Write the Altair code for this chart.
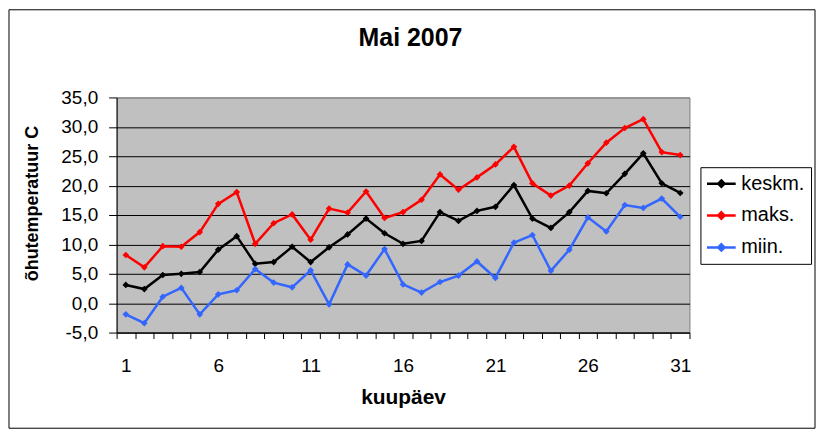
import altair as alt
import pandas as pd

days = list(range(1, 32))
keskm = [3.1, 2.4, 4.8, 5.0, 5.3, 9.1, 11.4, 6.7, 7.0, 9.6, 7.0, 9.5, 11.7, 14.4, 11.9, 10.1,
         10.6, 15.5, 14.0, 15.7, 16.4, 20.1, 14.4, 12.8, 15.5, 19.1, 18.7, 22.0, 25.5, 20.4, 18.75]
maks = [8.2, 6.1, 9.7, 9.6, 12.1, 16.9, 18.9, 10.1, 13.6, 15.1, 10.8, 16.1, 15.4, 19.0, 14.5, 15.5,
        17.6, 21.9, 19.3, 21.4, 23.6, 26.6, 20.4, 18.3, 20.0, 23.8, 27.3, 29.8, 31.3, 25.7, 25.2]
miin = [-1.9, -3.4, 1.1, 2.6, -1.9, 1.5, 2.2, 5.8, 3.5, 2.7, 5.6, -0.2, 6.6, 4.7, 9.2, 3.2,
        1.8, 3.6, 4.7, 7.1, 4.3, 10.3, 11.6, 5.5, 9.1, 14.6, 12.2, 16.7, 16.2, 17.8, 14.7]
series_names = ["keskm.", "maks.", "miin."]
series_colors = ["#000000", "#FF0000", "#3366FF"]
y_ticks = [-5, 0, 5, 10, 15, 20, 25, 30, 35]
x_ticks = [d - 0.5 for d in range(1, 33)]

rows = []
for name, vals in zip(series_names, [keskm, maks, miin]):
    for d, v in zip(days, vals):
        rows.append({"day": d, "series": name, "value": v})
df = pd.DataFrame(rows)

FONT = "Liberation Sans"
W, H = 575, 236
catw = W / 31.0

lines = alt.Chart(df).mark_line(
    strokeWidth=2.5,
    point=alt.OverlayMarkDef(shape="diamond", filled=True, size=45),
).encode(
    x=alt.X("day:Q",
            scale=alt.Scale(domain=[0.5, 31.5], nice=False, zero=False),
            axis=alt.Axis(values=x_ticks, tickSize=6, tickColor="black", domainColor="black",
                          grid=False, labelOverlap=False, labelFlush=False,
                          labelExpr="((datum.value - 0.5) % 5 === 0 && datum.value < 31) ? '' + (datum.value + 0.5) : ''",
                          labelOffset=catw / 2, labelBaseline="alphabetic", labelPadding=33,
                          labelFontSize=19, labelFont=FONT, labelColor="black",
                          title="kuupäev", titleFont=FONT, titleFontSize=21, titleFontWeight="bold",
                          titleColor="black", titleBaseline="alphabetic", titleY=71)),
    y=alt.Y("value:Q",
            scale=alt.Scale(domain=[-5, 35], nice=False, zero=False),
            axis=alt.Axis(values=y_ticks, tickSize=8, tickColor="black", domainColor="black",
                          gridColor={"condition": {"test": "datum.value === 35", "value": "#808080"}, "value": "black"},
                          gridOpacity=1, gridWidth=1,
                          labelExpr="replace(replace(format(datum.value, '.1f'), '.', ','), '\u2212', '-')",
                          labelPadding=11, labelFontSize=19, labelFont=FONT, labelColor="black",
                          title="õhutemperatuur C", titleFont=FONT, titleFontSize=18,
                          titleFontWeight="bold", titleColor="black", titleAngle=270,
                          titleBaseline="middle", titleAlign="center", titleX=-84, titleY=106)),
    color=alt.Color("series:N",
                    scale=alt.Scale(domain=series_names, range=series_colors),
                    legend=alt.Legend(title=None, orient="none", legendX=586, legendY=70,
                                      strokeColor="black", fillColor="white", padding=6,
                                      rowPadding=11, labelFont=FONT, labelFontSize=20,
                                      labelColor="black", labelOffset=14,
                                      symbolType="M-1.1,0H2.1M0.5,-0.35L0.85,0L0.5,0.35L0.15,0Z",
                                      symbolSize=324, symbolStrokeWidth=2.5)),
    order=alt.Order("day:Q"),
)

frame = alt.Chart(alt.Data(values=[{"a": 1}])).mark_rect(
    fill=None, stroke="black", strokeWidth=1
).encode(
    x=alt.value(-108), x2=alt.value(701), y=alt.value(-88), y2=alt.value(332)
)

chart = alt.layer(lines, frame).properties(
    width=W, height=H,
    autosize=alt.AutoSizeParams(type="none"),
    padding={"left": 109, "top": 89, "right": 128, "bottom": 97},
    background="white",
    title=alt.TitleParams("Mai 2007", font=FONT, fontSize=25, fontWeight="bold",
                          color="black", anchor="middle", frame="group", dx=7.5,
                          baseline="alphabetic", offset=-61.5),
).configure_view(fill="#C0C0C0", stroke="#808080", strokeWidth=1)

chart.save("out.html", embed_options={"renderer": "svg", "actions": False})
